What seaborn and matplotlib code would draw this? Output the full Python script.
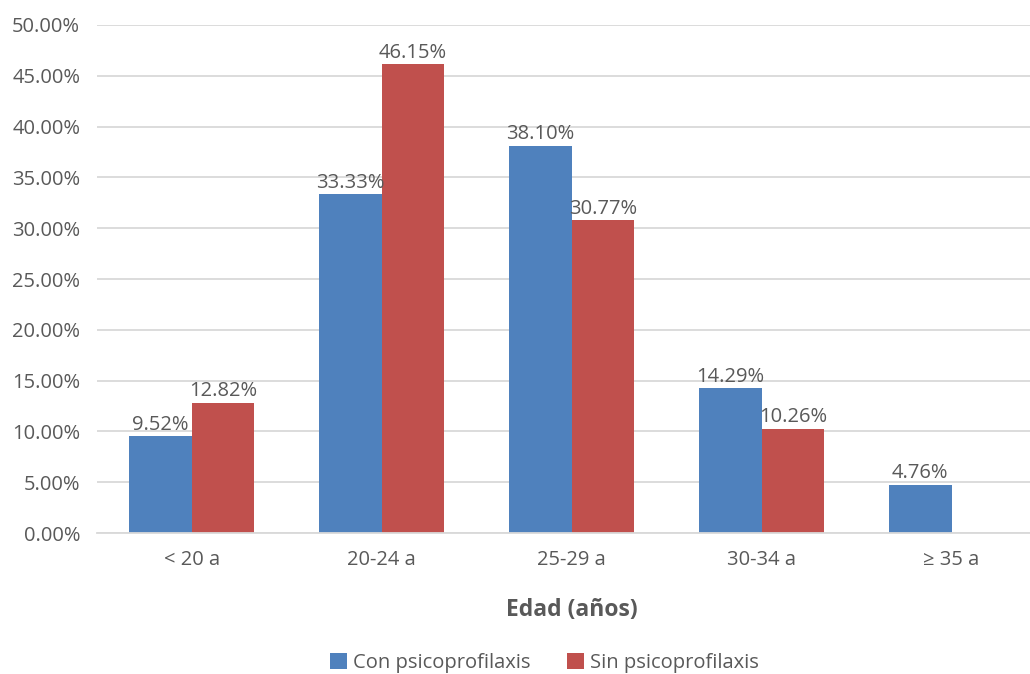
import numpy as np
import pandas as pd
import matplotlib
matplotlib.use("Agg")
import matplotlib.pyplot as plt
import seaborn as sns
from matplotlib.ticker import FuncFormatter

# Age groups and percentages for each group
categories = ["< 20 a", "20-24 a", "25-29 a", "30-34 a", "\u2265 35 a"]
con_psico = [9.52, 33.33, 38.10, 14.29, 4.76]
sin_psico = [12.82, 46.15, 30.77, 10.26, np.nan]
series_names = ["Con psicoprofilaxis", "Sin psicoprofilaxis"]
yticks = [0, 5, 10, 15, 20, 25, 30, 35, 40, 45, 50]

df = pd.DataFrame({
    "Edad": categories * 2,
    "Grupo": [series_names[0]] * len(categories) + [series_names[1]] * len(categories),
    "Valor": con_psico + sin_psico,
})

sns.set_theme(style="white")
plt.rcParams["font.family"] = ["Open Sans", "DejaVu Sans"]

text_color = "#595959"
palette = {series_names[0]: "#4F81BD", series_names[1]: "#C0504D"}

fig = plt.figure(figsize=(10.30, 6.74), dpi=100)
# plot area runs slightly past the right edge of the canvas
ax = fig.add_axes([0.094, 0.209, 0.922, 0.754])

sns.barplot(data=df, x="Edad", y="Valor", hue="Grupo", order=categories,
            hue_order=series_names, palette=palette, width=0.66,
            saturation=1, linewidth=0, ax=ax, legend=True)

# Value labels above each bar
for container in ax.containers:
    labels = [f"{v:.2f}%" if np.isfinite(v) and v > 0 else "" for v in container.datavalues]
    ax.bar_label(container, labels=labels, padding=1, fontsize=14.5, color=text_color)

ax.set_ylim(0, 50)
ax.set_xlim(-0.5, len(categories) - 0.5)
ax.set_yticks(yticks)
ax.yaxis.set_major_formatter(FuncFormatter(lambda v, p: f"{v:.2f}%"))
ax.grid(axis="y", color="#D9D9D9", linewidth=1.3)
ax.set_axisbelow(True)
for s in ["top", "right", "left"]:
    ax.spines[s].set_visible(False)
ax.spines["bottom"].set_color("#D9D9D9")
ax.spines["bottom"].set_linewidth(1.3)
ax.tick_params(axis="both", length=0, labelsize=14.5, colors=text_color)
ax.tick_params(axis="x", pad=12)
ax.tick_params(axis="y", pad=12)

ax.set_ylabel("")
ax.set_xlabel("Edad (años)", fontsize=16.5, fontweight="bold", color=text_color, labelpad=20)

leg = ax.legend(loc="center", bbox_to_anchor=(0.471, -0.255), ncol=2, frameon=False,
                fontsize=14.5, handlelength=0.85, handleheight=0.85, handletextpad=0.3,
                columnspacing=1.8, labelcolor=text_color)

fig.savefig("out.png", dpi=100, facecolor="white")
